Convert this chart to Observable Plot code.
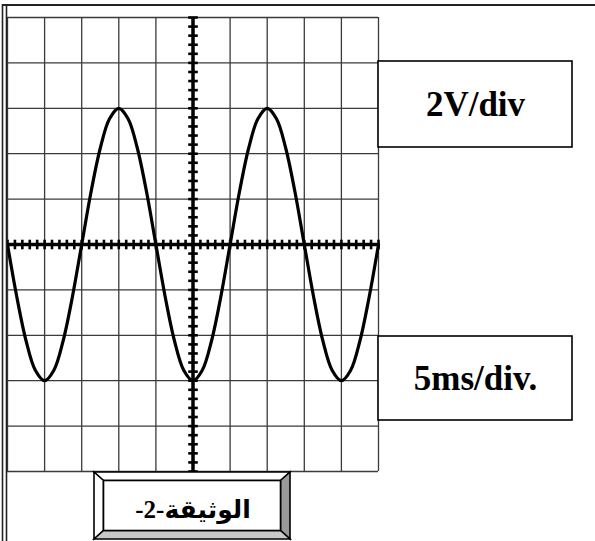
<!DOCTYPE html>
<html>
<head>
<meta charset="utf-8">
<script src="https://cdn.jsdelivr.net/npm/d3@7"></script>
<script src="https://cdn.jsdelivr.net/npm/@observablehq/plot@0.6"></script>
<style>
  html, body { margin: 0; padding: 0; background: #fff; }
  #chart { width: 595px; height: 541px; position: relative; }
</style>
</head>
<body>
<div id="chart"></div>
<script>
// Oscilloscope trace: time (ms, 5 ms/div) and voltage (V, 2 V/div)
const time_ms = [-25, -23.75, -22.5, -21.25, -20, -18.75, -17.5, -16.25, -15, -13.75,
  -12.5, -11.25, -10, -8.75, -7.5, -6.25, -5, -3.75, -2.5, -1.25,
  0, 1.25, 2.5, 3.75, 5, 6.25, 7.5, 8.75, 10, 11.25,
  12.5, 13.75, 15, 16.25, 17.5, 18.75, 20, 21.25, 22.5, 23.75, 25];
const voltage_V = [0, -2.30, -4.24, -5.54, -6, -5.54, -4.24, -2.30, 0, 2.30,
  4.24, 5.54, 6, 5.54, 4.24, 2.30, 0, -2.30, -4.24, -5.54,
  -6, -5.54, -4.24, -2.30, 0, 2.30, 4.24, 5.54, 6, 5.54,
  4.24, 2.30, 0, -2.30, -4.24, -5.54, -6, -5.54, -4.24, -2.30, 0];

const gridTimes = [-25, -20, -15, -10, -5, 0, 5, 10, 15, 20, 25];
const gridVolts = [-10, -8, -6, -4, -2, 0, 2, 4, 6, 8, 10];
const minorTimes = d3.range(-25, 25.001, 1);       // 5 subdivisions per div
const minorVolts = d3.range(-10, 10.001, 0.4);     // 5 subdivisions per div

const voltLabel = "2V/div";
const timeLabel = "5ms/div.";
const docLabel = "الوثيقة-2-";

const trace = time_ms.map((t, i) => ({t, v: voltage_V[i]}));

const vbar = {draw(ctx, size) { const h = Math.sqrt(size / Math.PI); ctx.moveTo(0, -h); ctx.lineTo(0, h); }};
const hbar = {draw(ctx, size) { const h = Math.sqrt(size / Math.PI); ctx.moveTo(-h, 0); ctx.lineTo(h, 0); }};

const W = 595, H = 541;
const plot = Plot.plot({
  width: W,
  height: H,
  marginLeft: 7,
  marginRight: W - 378,
  marginTop: 17,
  marginBottom: H - 471,
  x: {domain: [-25, 25], axis: null},
  y: {domain: [-10, 10], axis: null},
  style: {background: "white"},
  marks: [
    Plot.ruleX(gridTimes, {x: d => d, stroke: "#3a3a3a", strokeWidth: 1.3}),
    Plot.ruleY(gridVolts, {y: d => d, stroke: "#3a3a3a", strokeWidth: 1.3}),
    Plot.ruleX([0], {stroke: "black", strokeWidth: 3.5}),
    Plot.ruleY([0], {stroke: "black", strokeWidth: 3.5}),
    Plot.dot(minorTimes, {x: d => d, y: 0, symbol: vbar, r: 4.8, stroke: "black", strokeWidth: 2.6, fill: "none"}),
    Plot.dot(minorVolts, {x: 0, y: d => d, symbol: hbar, r: 4.8, stroke: "black", strokeWidth: 2.6, fill: "none"}),
    Plot.line(trace, {x: "t", y: "v", curve: "catmull-rom", stroke: "black", strokeWidth: 3.2})
  ]
});
document.getElementById("chart").appendChild(plot);

// Annotations (frame, unit boxes, document label)
const svg = d3.select(plot);
const g = svg.append("g").attr("class", "annotations");
// outer frame
g.append("line").attr("x1", 2).attr("x2", W).attr("y1", 5).attr("y2", 5).attr("stroke", "#222").attr("stroke-width", 2);
g.append("line").attr("x1", 2.5).attr("x2", 2.5).attr("y1", 4).attr("y2", H).attr("stroke", "#222").attr("stroke-width", 1.6);
g.append("line").attr("x1", 6.5).attr("x2", 6.5).attr("y1", 5).attr("y2", H).attr("stroke", "#222").attr("stroke-width", 1.6);

function unitBox(y0, y1, label) {
  g.append("rect").attr("x", 378).attr("y", y0).attr("width", 572 - 378).attr("height", y1 - y0)
    .attr("fill", "white").attr("stroke", "black").attr("stroke-width", 1.6);
  g.append("text").attr("x", 475.5).attr("y", (y0 + y1) / 2).attr("dy", "0.35em")
    .attr("text-anchor", "middle")
    .attr("font-family", "'Liberation Serif', 'Times New Roman', serif")
    .attr("font-weight", "bold").attr("font-size", 35).attr("fill", "black")
    .text(label);
}
unitBox(61, 147, voltLabel);
unitBox(336, 420, timeLabel);

// Bevelled document label box
const ox0 = 94, ox1 = 290, oy0 = 472, oy1 = 539;
const ix0 = 103.5, ix1 = 280.5, iy0 = 480.5, iy1 = 530.5;
const poly = (pts, fill) => g.append("polygon").attr("points", pts.map(p => p.join(",")).join(" "))
  .attr("fill", fill).attr("stroke", "black").attr("stroke-width", 1.6).attr("stroke-linejoin", "miter");
poly([[ox0, oy0], [ox1, oy0], [ix1, iy0], [ix0, iy0]], "white");
poly([[ox0, oy0], [ix0, iy0], [ix0, iy1], [ox0, oy1]], "white");
poly([[ox1, oy0], [ox1, oy1], [ix1, iy1], [ix1, iy0]], "#9a9a9a");
poly([[ox0, oy1], [ix0, iy1], [ix1, iy1], [ox1, oy1]], "#c8c8c8");
g.append("rect").attr("x", ix0).attr("y", iy0).attr("width", ix1 - ix0).attr("height", iy1 - iy0)
  .attr("fill", "white").attr("stroke", "black").attr("stroke-width", 1.6);
g.append("text").attr("x", (ix0 + ix1) / 2 + 1).attr("y", 518)
  .attr("text-anchor", "middle").attr("direction", "rtl")
  .style("direction", "rtl").style("unicode-bidi", "embed")
  .attr("font-family", "'Liberation Serif', 'DejaVu Sans', serif")
  .attr("font-weight", "bold").attr("font-size", 25).attr("fill", "black")
  .text(docLabel);
</script>
</body>
</html>
